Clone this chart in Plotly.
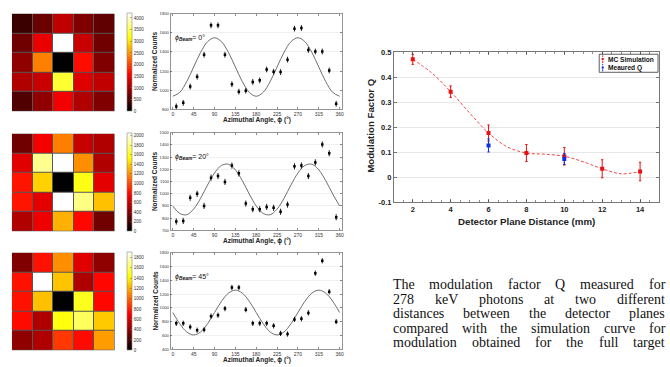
import plotly.graph_objects as go

# ======================= DATA =======================
# 5x5 detector hit maps (rows top -> bottom)
hm_beam0 = [
    [360, 655, 1185, 790, 593],
    [690, 1450, 4200, 1235, 690],
    [890, 2360, 0, 1650, 790],
    [1087, 1235, 3350, 1380, 1185],
    [494, 890, 1500, 1087, 790],
]
hm_beam20 = [
    [338, 740, 1150, 600, 530],
    [675, 1825, 2050, 1200, 530],
    [830, 1400, 0, 1580, 690],
    [830, 690, 2050, 1800, 1350],
    [530, 720, 1300, 790, 340],
]
hm_beam45 = [
    [358, 760, 1110, 625, 400],
    [760, 1900, 1260, 490, 730],
    [760, 1250, 0, 1480, 730],
    [740, 490, 1450, 1600, 1280],
    [400, 490, 870, 740, 1150],
]
hm_cells = [1, 2, 3, 4, 5]
hm_zmax = [4200, 2050, 1900]
cb_ticks_beam0 = [0, 500, 1000, 1500, 2000, 2500, 3000, 3500, 4000]
cb_ticks_beam20 = [0, 200, 400, 600, 800, 1000, 1200, 1400, 1600, 1800, 2000]
cb_ticks_beam45 = [0, 200, 400, 600, 800, 1000, 1200, 1400, 1600, 1800]

# azimuthal modulation curves
phi_bins = [7.5, 22.5, 37.5, 52.5, 67.5, 82.5, 97.5, 112.5, 127.5, 142.5, 157.5, 172.5,
            187.5, 202.5, 217.5, 232.5, 247.5, 262.5, 277.5, 292.5, 307.5, 322.5, 337.5, 352.5]
counts_beam0 = [831, 868, 1039, 1142, 1371, 1679, 1679, 1371, 1063, 985, 995, 1087,
                1104, 1217, 1193, 1190, 1320, 1644, 1651, 1422, 1405, 1405, 1207, 858]
counts_beam20 = [772, 777, 967, 999, 900, 1132, 1145, 1097, 1231, 1167, 919, 873,
                 873, 892, 884, 852, 911, 1225, 1231, 1145, 1257, 1404, 1332, 807]
counts_beam45 = [777, 777, 725, 678, 683, 881, 895, 990, 1296, 1296, 975, 777,
                 777, 777, 740, 631, 622, 834, 843, 928, 1504, 1683, 1235, 801]
count_err = [30, 25, 38]

fit_phi = [0, 15, 30, 45, 60, 75, 90, 105, 120, 135, 150, 165, 180,
           195, 210, 225, 240, 255, 270, 285, 300, 315, 330, 345, 360]
fit_beam0 = [937, 978, 1090, 1243, 1396, 1508, 1549, 1508, 1396, 1243, 1090, 978, 937,
             978, 1090, 1243, 1396, 1508, 1549, 1508, 1396, 1243, 1090, 978, 937]
fit_beam20 = [900, 838, 828, 874, 963, 1072, 1170, 1232, 1242, 1196, 1107, 998, 900,
              838, 828, 874, 963, 1072, 1170, 1232, 1242, 1196, 1107, 998, 900]
fit_beam45 = [933, 771, 652, 608, 652, 771, 933, 1096, 1214, 1258, 1214, 1096, 933,
              771, 652, 608, 652, 771, 933, 1096, 1214, 1258, 1214, 1096, 933]

phi_ticks = [0, 45, 90, 135, 180, 225, 270, 315, 360]
count_ticks_beam0 = [800, 1000, 1200, 1400, 1600, 1800]
count_ticks_beam20 = [700, 800, 900, 1000, 1100, 1200, 1300, 1400, 1500]
count_ticks_beam45 = [400, 600, 800, 1000, 1200, 1400, 1600, 1800]
count_ranges = [[800, 1800], [700, 1500], [400, 1800]]
beam_angles = ["0°", "20°", "45°"]

# modulation factor vs. plane distance
distance_mm = [2, 4, 6, 8, 10, 12, 14]
q_mc = [0.471, 0.342, 0.177, 0.097, 0.084, 0.034, 0.023]
q_mc_err = [0.020, 0.023, 0.032, 0.034, 0.035, 0.036, 0.037]
distance_meas = [6, 10]
q_meas = [0.127, 0.073]
q_meas_err = [0.026, 0.022]
sim_curve_x = [2, 3, 4, 5, 6, 7, 8, 9, 10, 11, 12, 13, 14]
sim_curve_y = [0.471, 0.417, 0.342, 0.257, 0.177, 0.121, 0.097, 0.092, 0.084, 0.062, 0.034, 0.014, 0.023]
q_ticks = [-0.1, 0, 0.1, 0.2, 0.3, 0.4, 0.5]
q_ticktext = ["-0.1", "0", "0.1", "0.2", "0.3", "0.4", "0.5"]
legend_names = ["MC Simulation", "Meaured Q"]

caption_lines = [
    "The modulation factor Q measured for",
    "278 keV photons at two different",
    "distances between the detector planes",
    "compared with the simulation curve for",
    "modulation obtained for the full target",
]

# ======================= LAYOUT HELPERS =======================
W, H = 670, 367
SANS = "Liberation Sans, Arial, sans-serif"
SERIF = "Liberation Serif, Times New Roman, serif"
AX = "#404040"


def px(x):
    return x / W


def py(y):
    return 1 - y / H


def dom_x(a, b):
    return [a / W, b / W]


def dom_y(top, bottom):
    return [1 - bottom / H, 1 - top / H]


HOT = [[0.0, "rgb(0,0,0)"], [0.375, "rgb(255,0,0)"],
       [0.75, "rgb(255,255,0)"], [1.0, "rgb(255,255,255)"]]

fig = go.Figure()
layout_axes = {}
shapes = []
annotations = []

# rows: (top, bottom) pixel extents
hm_rows = [(10, 110), (133, 233), (255, 355)]
line_rows = [(10, 108), (132, 232), (255, 354)]
hm_data = [hm_beam0, hm_beam20, hm_beam45]
cb_ticks = [cb_ticks_beam0, cb_ticks_beam20, cb_ticks_beam45]
counts = [counts_beam0, counts_beam20, counts_beam45]
fits = [fit_beam0, fit_beam20, fit_beam45]
count_ticks = [count_ticks_beam0, count_ticks_beam20, count_ticks_beam45]

for r in range(3):
    hx = 2 * r + 1
    lx = 2 * r + 2
    hs = "" if hx == 1 else str(hx)
    ls = str(lx)
    top, bot = hm_rows[r]
    # ---- heatmap ----
    fig.add_trace(go.Heatmap(
        z=hm_data[r], x=hm_cells, y=hm_cells, colorscale=HOT, zmin=0, zmax=hm_zmax[r],
        xgap=1, ygap=1, xaxis="x" + hs, yaxis="y" + hs, hoverinfo="skip",
        colorbar=dict(
            x=px(127), xanchor="left", xpad=0, y=py(bot), yanchor="bottom", ypad=0,
            len=(bot - top) / H, lenmode="fraction", thickness=4.5, thicknessmode="pixels",
            outlinewidth=0.6, outlinecolor="#888", tickvals=cb_ticks[r],
            ticks="inside", ticklen=1.5, tickcolor="#666", tickwidth=0.5,
            tickfont=dict(size=4.5, family=SANS, color="#333"),
        ),
    ))
    layout_axes["xaxis" + hs] = dict(domain=dom_x(12, 115), range=[0.5, 5.5], visible=False,
                                     anchor="y" + hs, fixedrange=True)
    layout_axes["yaxis" + hs] = dict(domain=dom_y(top, bot), range=[5.5, 0.5], visible=False,
                                     anchor="x" + hs, fixedrange=True)
    shapes.append(dict(type="rect", xref="x" + hs + " domain", yref="y" + hs + " domain",
                       x0=0, x1=1, y0=0, y1=1, fillcolor="#555555", line=dict(width=0),
                       layer="below"))

    # ---- modulation curve ----
    ltop, lbot = line_rows[r]
    fig.add_trace(go.Scatter(
        x=fit_phi, y=fits[r], mode="lines", xaxis="x" + ls, yaxis="y" + ls,
        line=dict(color="#6e6e6e", width=1, shape="spline"), hoverinfo="skip",
        showlegend=False,
    ))
    fig.add_trace(go.Scatter(
        x=phi_bins, y=counts[r], mode="markers", xaxis="x" + ls, yaxis="y" + ls,
        marker=dict(symbol="square", size=2.5, color="black"),
        error_y=dict(type="constant", value=count_err[r], thickness=0.9, width=0, color="black"),
        showlegend=False,
    ))
    layout_axes["xaxis" + ls] = dict(
        domain=dom_x(171, 343), range=[-5, 365], anchor="y" + ls,
        tickmode="array", tickvals=phi_ticks, ticks="inside", ticklen=2, tickwidth=0.6,
        tickcolor=AX, showline=True, linecolor="#666", linewidth=0.7, mirror="ticks",
        showgrid=False, zeroline=False,
        tickfont=dict(size=5, family=SANS, color="#333"),
    )
    layout_axes["yaxis" + ls] = dict(
        domain=dom_y(ltop, lbot), range=count_ranges[r], anchor="x" + ls,
        tickmode="array", tickvals=count_ticks[r], ticks="inside", ticklen=2, tickwidth=0.6,
        tickcolor=AX, showline=True, linecolor="#666", linewidth=0.7, mirror="ticks",
        showgrid=True, gridcolor="#e6e6e6", gridwidth=0.6, zeroline=False,
        tickfont=dict(size=4.2, family=SANS, color="#333"),
    )
    # titles & beam label
    annotations.append(dict(text="<b>Azimuthal Angle, \u03d5 (°)</b>", x=px(258), y=py(lbot + 10.5),
                            xref="paper", yref="paper", showarrow=False, xanchor="center",
                            yanchor="middle", font=dict(size=6.5, family=SANS, color="#222")))
    annotations.append(dict(text="<b>Normalized Counts</b>", x=px(155), y=py((ltop + lbot) / 2),
                            xref="paper", yref="paper", showarrow=False, textangle=-90,
                            xanchor="center", yanchor="middle",
                            font=dict(size=6.5, family=SANS, color="#222")))
    annotations.append(dict(text="<i>\u03d5</i><sub><b><i>Beam</i></b></sub>= " + beam_angles[r],
                            x=px(174), y=py(ltop + 25), xref="paper", yref="paper",
                            showarrow=False, xanchor="left", yanchor="middle",
                            font=dict(size=7, family=SANS, color="#111")))

# ---- right chart: modulation factor ----
fig.add_trace(go.Scatter(
    x=sim_curve_x, y=sim_curve_y, mode="lines", xaxis="x7", yaxis="y7",
    line=dict(color="rgba(235,40,40,0.85)", width=1, dash="3px,2px", shape="spline"),
    hoverinfo="skip", showlegend=False,
))
fig.add_trace(go.Scatter(
    x=distance_mm, y=q_mc, mode="markers", xaxis="x7", yaxis="y7", name=legend_names[0],
    marker=dict(symbol="square", size=4, color="#e81010"),
    error_y=dict(type="data", array=q_mc_err, thickness=1, width=1.2, color="#e81010"),
    showlegend=False,
))
fig.add_trace(go.Scatter(
    x=distance_meas, y=q_meas, mode="markers", xaxis="x7", yaxis="y7", name=legend_names[1],
    marker=dict(symbol="square", size=4, color="#1030e0"),
    error_y=dict(type="data", array=q_meas_err, thickness=1, width=1.2, color="#1030e0"),
    showlegend=False,
))
layout_axes["xaxis7"] = dict(
    domain=dom_x(395, 661), range=[1, 15], anchor="y7", tickmode="array", tickvals=distance_mm,
    ticks="inside", ticklen=3, tickwidth=0.7, tickcolor=AX,
    minor=dict(ticks="inside", ticklen=2, dtick=0.5, tick0=0, tickcolor=AX, tickwidth=0.6),
    showline=True, linecolor="#555", linewidth=0.8, mirror="ticks", showgrid=False,
    zeroline=False, tickfont=dict(size=7.5, family=SANS, color="#222", weight="bold"),
)
layout_axes["yaxis7"] = dict(
    domain=dom_y(49.3, 203.3), range=[-0.1, 0.5], anchor="x7", tickmode="array",
    tickvals=q_ticks, ticktext=q_ticktext, ticks="inside", ticklen=3, tickwidth=0.7,
    tickcolor=AX, showline=True, linecolor="#555", linewidth=0.8, mirror="ticks",
    showgrid=True, gridcolor="#e2e2e2", gridwidth=0.8, zeroline=False,
    tickfont=dict(size=7.5, family=SANS, color="#222", weight="bold"),
)
annotations.append(dict(text="<b>Detector Plane Distance (mm)</b>", x=px(528), y=py(222.5),
                        xref="paper", yref="paper", showarrow=False, xanchor="center",
                        yanchor="middle", font=dict(size=9.7, family=SANS, color="#222")))
annotations.append(dict(text="<b>Modulation Factor Q</b>", x=px(372), y=py(124),
                        xref="paper", yref="paper", showarrow=False, textangle=-90,
                        xanchor="center", yanchor="middle",
                        font=dict(size=9.7, family=SANS, color="#222")))

# manual compact legend
shapes.append(dict(type="rect", xref="paper", yref="paper", x0=px(601), x1=px(660),
                   y0=py(70), y1=py(51.5), line=dict(color="#333", width=0.8),
                   fillcolor="white", layer="above"))
leg_colors = ["#e81010", "#1030e0"]
leg_y = [56.5, 65.2]
for name, col, yy in zip(legend_names, leg_colors, leg_y):
    shapes.append(dict(type="line", xref="paper", yref="paper", x0=px(604.5), x1=px(604.5),
                       y0=py(yy + 3.8), y1=py(yy - 3.8), line=dict(color=col, width=1, dash="2px,1px")))
    shapes.append(dict(type="rect", xref="paper", yref="paper", x0=px(603.5), x1=px(605.5),
                       y0=py(yy + 1), y1=py(yy - 1), line=dict(width=0), fillcolor=col))
    annotations.append(dict(text="<b>" + name + "</b>", x=px(609), y=py(yy), xref="paper",
                            yref="paper", showarrow=False, xanchor="left", yanchor="middle",
                            borderpad=0, font=dict(size=6.6, family=SANS, color="#111")))

# justified caption text
TIMES = {" ": 250, "T": 611, "Q": 722, "V": 722, "a": 444, "b": 500, "c": 444, "d": 500,
         "e": 444, "f": 333, "g": 500, "h": 500, "i": 278, "k": 500, "l": 278, "m": 778,
         "n": 500, "o": 500, "p": 500, "r": 333, "s": 389, "t": 278, "u": 500, "v": 500,
         "w": 722, "y": 500, "2": 500, "7": 500, "8": 500}
CAP_FS = 14
CAP_LEFT, CAP_RIGHT = 394, 667
cap_y = [287.5, 302.5, 317.5, 332.5, 347.5]
for line, yc in zip(caption_lines, cap_y):
    words = line.split()
    widths = [sum(TIMES.get(c, 500) for c in w) / 1000 * CAP_FS for w in words]
    gap = (CAP_RIGHT - CAP_LEFT - sum(widths)) / (len(words) - 1)
    xx = CAP_LEFT
    for w, wd in zip(words, widths):
        annotations.append(dict(text=w, x=px(xx), y=py(yc), xref="paper", yref="paper",
                                showarrow=False, xanchor="left", yanchor="middle", borderpad=0,
                                borderwidth=0, font=dict(size=CAP_FS, family=SERIF, color="#111")))
        xx += wd + gap

fig.update_layout(
    width=W, height=H, autosize=False, margin=dict(l=0, r=0, t=0, b=0),
    paper_bgcolor="white", plot_bgcolor="rgba(0,0,0,0)", showlegend=False,
    shapes=shapes, annotations=annotations, **layout_axes,
)
fig.write_html("out.html", config={"displayModeBar": False, "staticPlot": True},
               post_script="document.body.style.margin='0';document.body.style.overflow='hidden';")
